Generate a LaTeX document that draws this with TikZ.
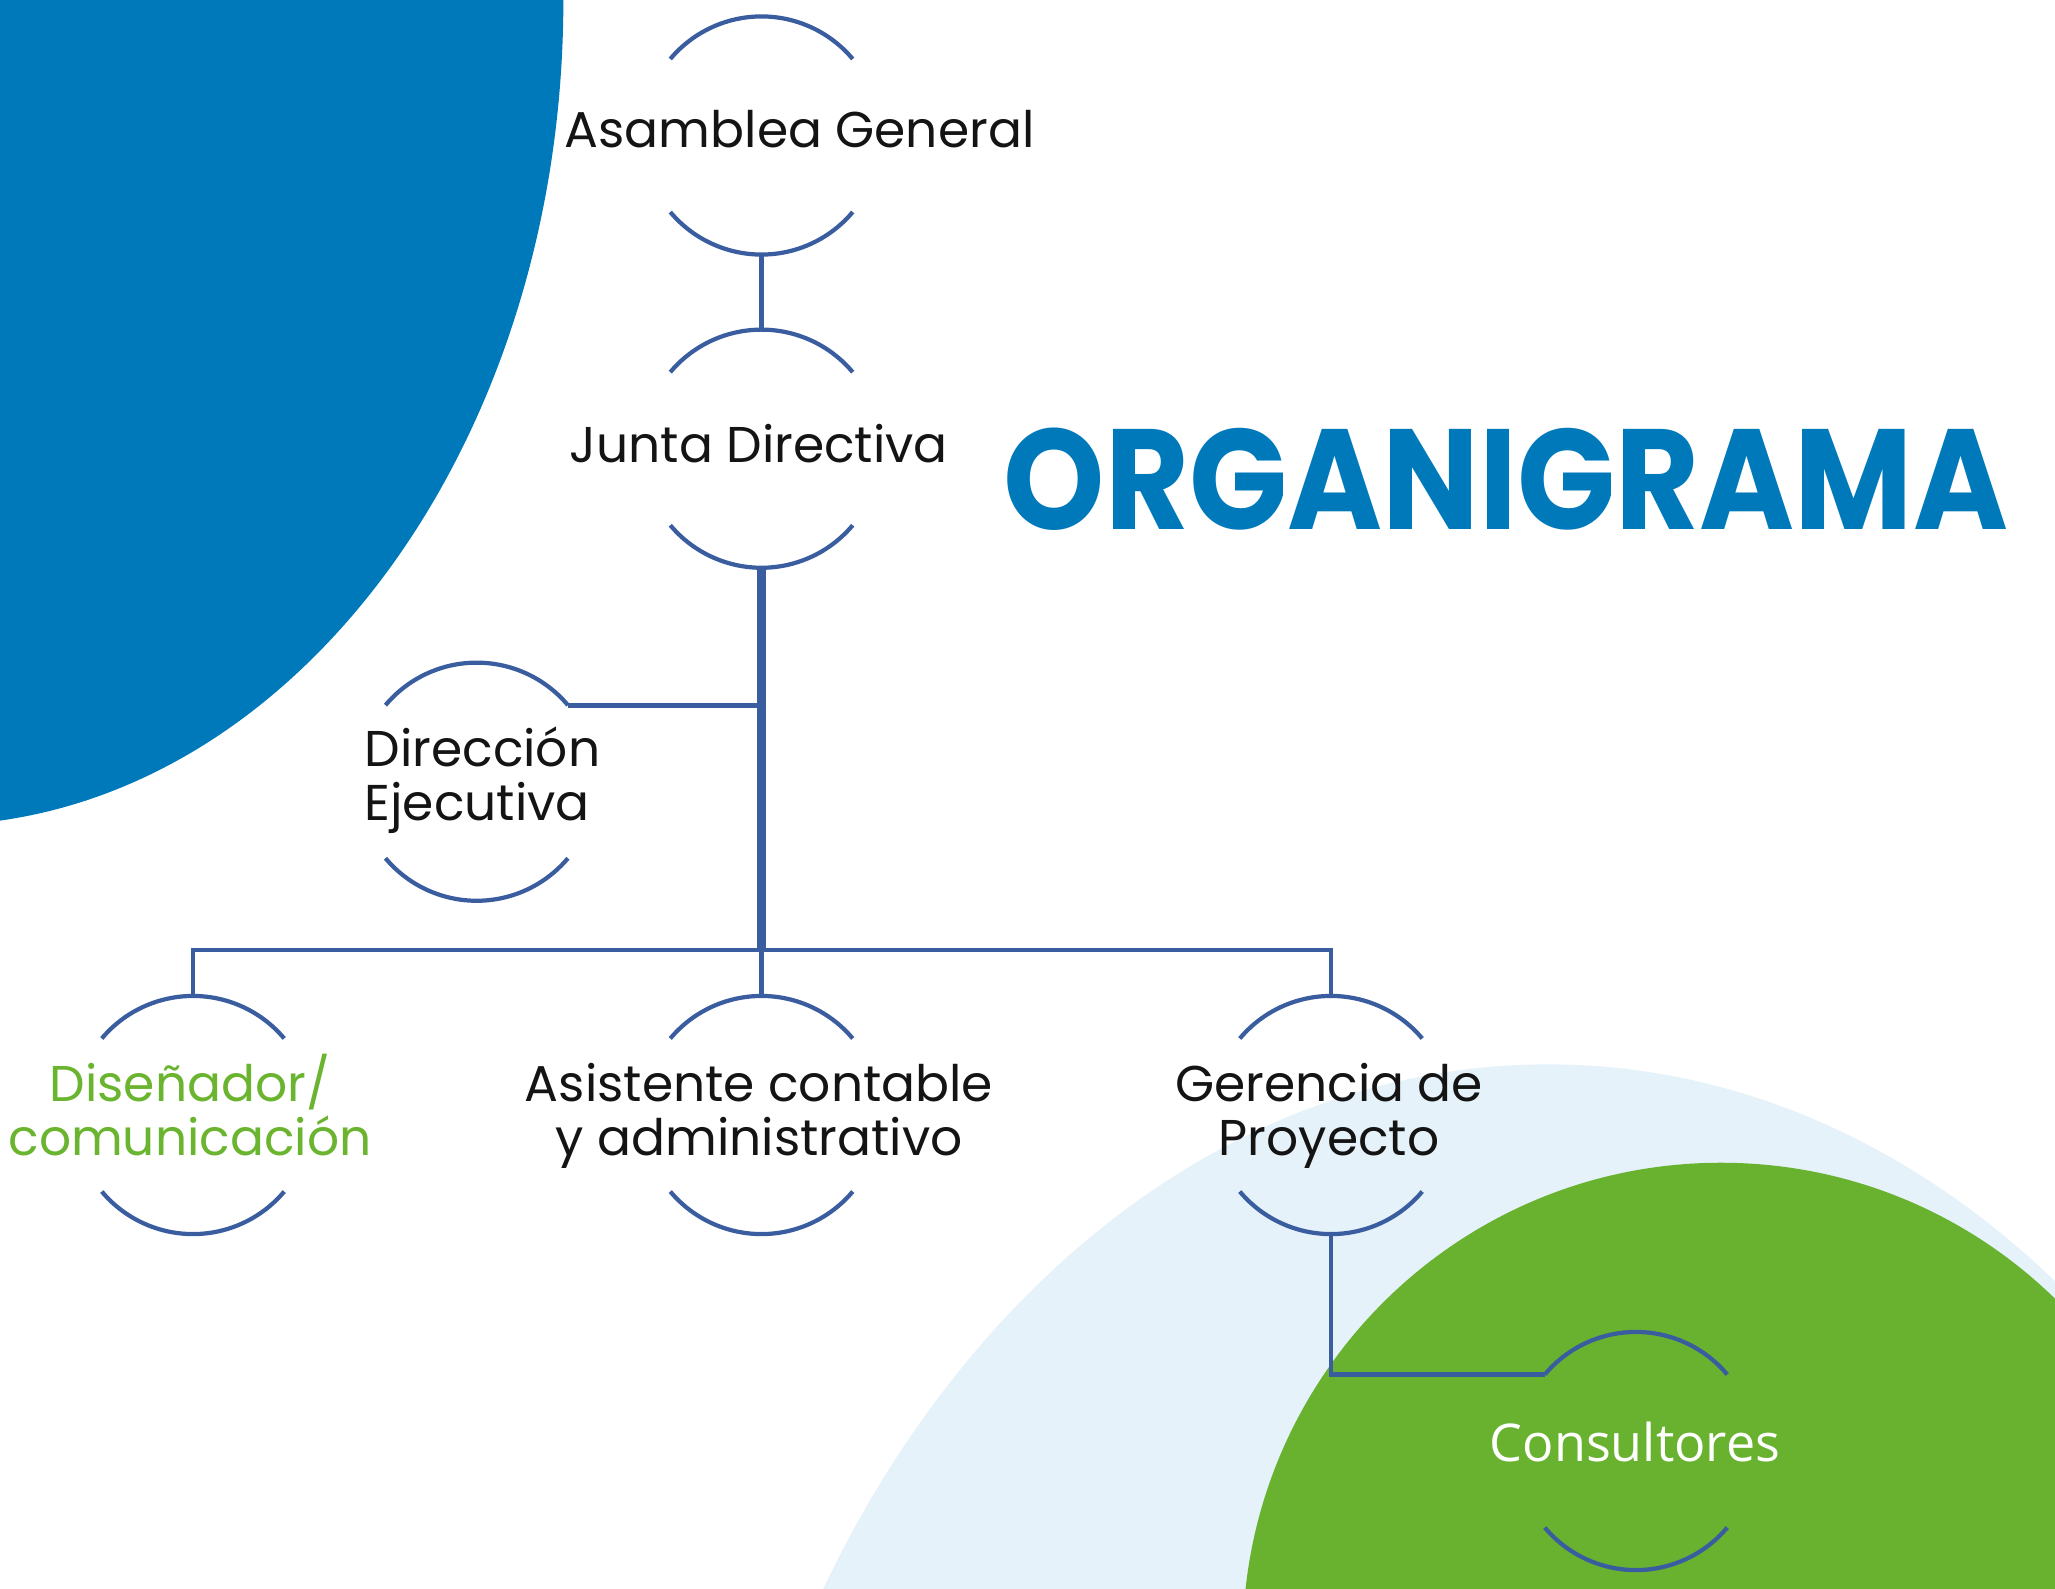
\documentclass[tikz,border=0pt]{standalone}
\usepackage{fontspec}
\setmainfont{Poppins}
\newfontfamily\consfont{Open Sans}
\usepackage{tikz}
\usetikzlibrary{positioning}

\definecolor{azulfondo}{HTML}{0079BA}
\definecolor{celeste}{HTML}{E6F2FA}
\definecolor{verdefondo}{HTML}{69B22F}
\definecolor{verdetexto}{HTML}{6AB42F}
\definecolor{azullinea}{HTML}{3A5DA0}

\newcommand\arcos[1]{%
  \draw[arco] (#1.40)  arc[start angle=40,  end angle=140, radius=1.19cm];
  \draw[arco] (#1.220) arc[start angle=220, end angle=320, radius=1.19cm];}

\begin{document}
\begin{tikzpicture}[x=0.01cm, y=-0.01cm,
    puesto/.style={circle, minimum size=2.38cm, inner sep=0pt, outer sep=0pt},
    texto/.style={align=center, anchor=base, inner sep=0pt, text=black!92,
                  font=\fontsize{14.3}{15.2}\selectfont},
    arco/.style={draw=azullinea, line width=1.2pt},
    linea/.style={draw=azullinea, line width=1.35pt},
    tronco/.style={draw=azullinea, line width=2.3pt}]
      \useasboundingbox (0,0) rectangle (2055,1588);
      \begin{scope}
        \clip (0,0) rectangle (2055,1588);
        \fill[azulfondo]  (-69,0)      ellipse[x radius=6.32cm, y radius=8.25cm];
        \fill[celeste]    (1548,2165)  ellipse[x radius=8.5cm,  y radius=11cm];
        \fill[verdefondo] (1721,1641)  circle[radius=4.78cm];
      \end{scope}

      \node[puesto] (asamblea)    at (761.5,135.5) {};
      \node[puesto] (junta)       at (761.5,448.7) {};
      \node[puesto] (direccion)   at (476.7,781.7) {};
      \node[puesto] (disenador)   at (193,1115)    {};
      \node[puesto] (asistente)   at (761.5,1115)  {};
      \node[puesto] (gerencia)    at (1331,1115)   {};
      \node[puesto] (consultores) at (1636,1451)   {};
      \coordinate   (bus)         at (761.5,950);

      % multi-line texts sit on the baseline of their last line
      \node[texto] (asamblea-t)  at (799.6,148)   {Asamblea General};
      \node[texto] (junta-t)     at (758.7,462)   {Junta Directiva};
      \node[texto, align=left, anchor=base west]
                   (direccion-t) at (364,820)     {Dirección\\Ejecutiva};
      \node[texto, text=verdetexto]
                   (disenador-t) at (190,1155)    {Diseñador/\\comunicación};
      \node[texto] (asistente-t) at (759,1155)    {Asistente contable\\y administrativo};
      \node[texto] (gerencia-t)  at (1329,1155)   {Gerencia de\\Proyecto};
      \node[texto, text=white, font=\consfont\fontsize{14.8}{16}\selectfont]
                   (consultores-t) at (1635,1461.7) {Consultores};

      \node[text=azulfondo, font=\fontsize{39}{39}\selectfont\bfseries, inner sep=0pt]
                   (titulo) at (1506,479) {\scalebox{0.94}[1.04]{ORGANIGRAMA}};

      \foreach \n in {asamblea, junta, direccion, disenador, asistente, gerencia, consultores}
        {\arcos{\n}}

      \draw[linea]  (asamblea.south) -- (junta.north);
      \draw[tronco] (junta.south) -- (bus);
      \draw[linea]  (direccion.40) -- (direccion.40 -| bus);
      \draw[linea]  (disenador.north) |- (bus) -| (gerencia.north);
      \draw[linea]  (bus) -- (asistente.north);
      \draw[linea]  (gerencia.south) |- (consultores.140);
    \end{tikzpicture}
\end{document}
